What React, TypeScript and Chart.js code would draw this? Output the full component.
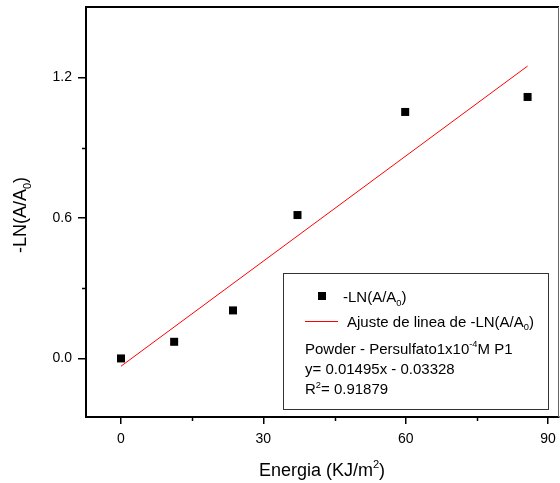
import React, { useEffect, useRef } from "react";
import { Chart, registerables } from "chart.js";

Chart.register(...registerables);

const energyValues = [0, 11.2, 23.6, 37.2, 59.9, 85.7];
const lnValues = [0.0, 0.071, 0.205, 0.612, 1.052, 1.116];
const fitXValues = [0, 85.7];
const fitYValues = [-0.0333, 1.2479];
const xMajorTicks = [0, 30, 60, 90];
const xMinorTicks = [15, 45, 75];
const yMajorTicks = [0.0, 0.6, 1.2];
const yMinorTicks = [0.3, 0.9];

const FONT = '"Liberation Sans", Arial, sans-serif';

type Seg = { t: string; sub?: boolean; sup?: boolean };

function richWidth(ctx: CanvasRenderingContext2D, segs: Seg[], size: number) {
  let w = 0;
  for (const s of segs) {
    const fs = s.sub || s.sup ? size * 0.62 : size;
    ctx.font = `${fs}px ${FONT}`;
    w += ctx.measureText(s.t).width;
  }
  return w;
}

function drawRich(ctx: CanvasRenderingContext2D, segs: Seg[], x: number, y: number, size: number) {
  ctx.textBaseline = "alphabetic";
  ctx.textAlign = "left";
  let cx = x;
  for (const s of segs) {
    const fs = s.sub || s.sup ? size * 0.62 : size;
    ctx.font = `${fs}px ${FONT}`;
    const dy = s.sub ? size * 0.25 : s.sup ? -size * 0.42 : 0;
    ctx.fillText(s.t, cx, y + dy);
    cx += ctx.measureText(s.t).width;
  }
}

const decorPlugin = {
  id: "decor",
  afterDraw(chart: any) {
    const ctx: CanvasRenderingContext2D = chart.ctx;
    const { left, right, top, bottom } = chart.chartArea;
    const xs = chart.scales.x;
    const ys = chart.scales.y;
    ctx.save();
    // frame top and right
    ctx.strokeStyle = "#000";
    ctx.lineWidth = 2;
    ctx.beginPath();
    ctx.moveTo(left, top);
    ctx.lineTo(right, top);
    ctx.stroke();
    ctx.lineWidth = 1;
    ctx.strokeStyle = "#666";
    ctx.beginPath();
    ctx.moveTo(right - 0.5, top);
    ctx.lineTo(right - 0.5, bottom);
    ctx.stroke();
    // minor ticks
    ctx.strokeStyle = "#000";
    ctx.lineWidth = 1.5;
    for (const v of xMinorTicks) {
      const px = Math.round(xs.getPixelForValue(v)) + 0.5;
      ctx.beginPath();
      ctx.moveTo(px, bottom);
      ctx.lineTo(px, bottom + 4);
      ctx.stroke();
    }
    for (const v of yMinorTicks) {
      const py = Math.round(ys.getPixelForValue(v)) + 0.5;
      ctx.beginPath();
      ctx.moveTo(left, py);
      ctx.lineTo(left - 4, py);
      ctx.stroke();
    }
    ctx.fillStyle = "#000";
    // x title
    const xt: Seg[] = [{ t: "Energia (KJ/m" }, { t: "2", sup: true }, { t: ")" }];
    const xw = richWidth(ctx, xt, 18);
    drawRich(ctx, xt, 322 - xw / 2, 476, 18);
    // y title
    const yt: Seg[] = [{ t: "-LN(A/A" }, { t: "0", sub: true }, { t: ")" }];
    const yw = richWidth(ctx, yt, 18);
    ctx.save();
    ctx.translate(26, 215);
    ctx.rotate(-Math.PI / 2);
    drawRich(ctx, yt, -yw / 2, 0, 18);
    ctx.restore();
    // legend box
    ctx.strokeStyle = "#333";
    ctx.lineWidth = 1;
    ctx.strokeRect(283.5, 273.5, 265, 136);
    // marker
    ctx.fillStyle = "#000";
    ctx.fillRect(318, 292, 8, 8);
    drawRich(ctx, [{ t: "-LN(A/A" }, { t: "0", sub: true }, { t: ")" }], 343, 302, 15);
    // line sample
    ctx.strokeStyle = "#ff0000";
    ctx.lineWidth = 1;
    ctx.beginPath();
    ctx.moveTo(305, 321.5);
    ctx.lineTo(338, 321.5);
    ctx.stroke();
    drawRich(ctx, [{ t: "Ajuste de linea de -LN(A/A" }, { t: "0", sub: true }, { t: ")" }], 347, 326.5, 15);
    drawRich(ctx, [{ t: "Powder - Persulfato1x10" }, { t: "-4", sup: true }, { t: "M P1" }], 305, 353.5, 15);
    drawRich(ctx, [{ t: "y= 0.01495x - 0.03328" }], 305, 374, 15);
    drawRich(ctx, [{ t: "R" }, { t: "2", sup: true }, { t: "= 0.91879" }], 305, 394, 15);
    ctx.restore();
  },
};

export default function App() {
  const ref = useRef<HTMLCanvasElement | null>(null);
  useEffect(() => {
    if (!ref.current) return;
    const chart = new Chart(ref.current, {
      type: "scatter",
      data: {
        datasets: [
          {
            label: "-LN(A/A0)",
            data: energyValues.map((x, i) => ({ x, y: lnValues[i] })),
            pointStyle: "rect",
            pointRadius: 5.66,
            pointBorderWidth: 0,
            backgroundColor: "#000",
            borderColor: "#000",
            showLine: false,
          },
          {
            label: "Ajuste de linea de -LN(A/A0)",
            data: fitXValues.map((x, i) => ({ x, y: fitYValues[i] })),
            showLine: true,
            borderColor: "#ff0000",
            borderWidth: 1,
            pointRadius: 0,
            fill: false,
          },
        ],
      },
      options: {
        responsive: false,
        animation: false,
        layout: { autoPadding: false, padding: { left: 0, top: 7, right: 1, bottom: 0 } },
        plugins: { legend: { display: false }, tooltip: { enabled: false } },
        scales: {
          x: {
            type: "linear",
            min: -7.38,
            max: 92.32,
            afterFit: (s: any) => {
              s.height = 66;
              s.paddingLeft = 0;
              s.paddingRight = 0;
            },
            afterBuildTicks: (s: any) => {
              s.ticks = xMajorTicks.map((v) => ({ value: v }));
            },
            grid: { display: true, drawOnChartArea: false, drawTicks: true, tickLength: 7, color: "#000", lineWidth: 1.5 },
            border: { display: true, color: "#000", width: 2 },
            ticks: {
              color: "#000",
              padding: 7,
              font: { family: FONT, size: 14 },
              callback: (v: any) => String(v),
            },
          },
          y: {
            type: "linear",
            min: -0.25,
            max: 1.5,
            afterFit: (s: any) => {
              s.width = 86;
              s.paddingTop = 0;
              s.paddingBottom = 0;
            },
            afterBuildTicks: (s: any) => {
              s.ticks = yMajorTicks.map((v) => ({ value: v }));
            },
            grid: { display: true, drawOnChartArea: false, drawTicks: true, tickLength: 8, color: "#000", lineWidth: 1.5 },
            border: { display: true, color: "#000", width: 2 },
            ticks: {
              color: "#000",
              padding: 6,
              font: { family: FONT, size: 14 },
              callback: (v: any) => Number(v).toFixed(1),
            },
          },
        },
      },
      plugins: [decorPlugin],
    } as any);
    return () => chart.destroy();
  }, []);
  return (
    <div style={{ position: "absolute", left: 0, top: 0, width: 560, height: 483, background: "#fff" }}>
      <canvas ref={ref} width={560} height={483} style={{ display: "block", width: 560, height: 483 }} />
    </div>
  );
}
